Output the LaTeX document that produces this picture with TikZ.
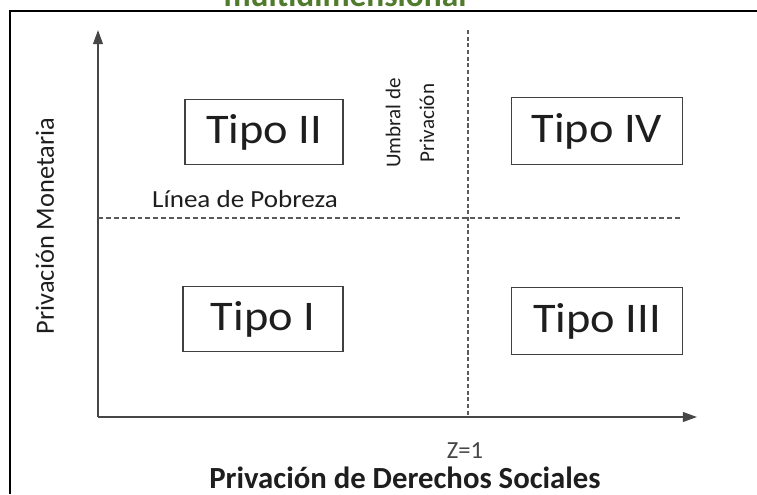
\documentclass[tikz,border=0pt]{standalone}
\usepackage{fontspec}
\setmainfont{Carlito}
\usepackage{graphicx}
\usetikzlibrary{arrows.meta,positioning}
\definecolor{boxgray}{RGB}{64,64,64}
\definecolor{axisgray}{RGB}{70,70,70}
\definecolor{dashgray}{RGB}{90,90,90}
\definecolor{txtgray}{RGB}{30,30,30}
\definecolor{titlegreen}{RGB}{80,122,44}
\newcommand{\hstr}[2][1.1]{\scalebox{#1}[1]{#2}}
\tikzset{
  tipo/.style={draw=boxgray, line width=0.7pt, text=txtgray, inner sep=0pt,
    font=\fontsize{24}{28}\selectfont},
  axis/.style={draw=axisgray, line width=1pt, -{Triangle[length=8pt,width=5.5pt]}},
  umbral/.style={draw=dashgray, line width=0.8pt, dash pattern=on 2.3pt off 1.5pt},
  lbl/.style={inner sep=0pt, text=txtgray}
}
\begin{document}
\begin{tikzpicture}[x=0.02cm, y=-0.02cm]
  \useasboundingbox (0,0) rectangle (757,494);
  % cropped title and frame
  \begin{scope}
    \clip (0,0) rectangle (757,494);
    \node[anchor=base, inner sep=0pt, text=titlegreen,
      font=\fontsize{19}{22}\selectfont\bfseries] (titulo) at (345,6) {multidimensional};
  \end{scope}
  \draw[line width=1.2pt] (10,494) -- (10,11) -- (757,11);
  % axes
  \coordinate (O) at (98,417);
  \coordinate (ytip) at (98,30);
  \coordinate (xtip) at (697,417);
  \draw[axis] (O) -- (ytip);
  \draw[axis] (O) -- (xtip);
  % thresholds
  \coordinate (zTop) at (468,30);
  \coordinate (zBot) at (468,417);
  \coordinate (lpIzq) at (98,218);
  \coordinate (lpDer) at (683,218);
  \draw[umbral] (zTop) -- (zBot);
  \draw[umbral, dash pattern=on 2.8pt off 1.7pt] (lpIzq) -- (lpDer);
  % quadrants
  \node[tipo, minimum width=3.16cm, minimum height=1.3cm] (tII) at (264,132) {\hstr{Tipo II}};
  \node[tipo, minimum width=3.42cm, minimum height=1.34cm] (tIV) at (597,131) {\hstr{Tipo IV}};
  \node[tipo, minimum width=3.2cm, minimum height=1.3cm] (tI) at (263,319) {\hstr{Tipo I}};
  \node[tipo, minimum width=3.42cm, minimum height=1.34cm] (tIII) at (597,321) {\hstr{Tipo III}};
  % labels
  \node[lbl, anchor=base, font=\fontsize{14}{16}\selectfont] (lpLab) at (245,207) {\hstr{Línea de Pobreza}};
  \node[lbl, rotate=90, align=center, font=\fontsize{12}{19.3}\selectfont] (umLab) at (410,123) {Umbral de\\Privación};
  \node[lbl, rotate=90, font=\fontsize{15}{17}\selectfont] (ejeY) at (45,226) {Privación Monetaria};
  \node[lbl, anchor=base, text=axisgray, font=\fontsize{14}{16}\selectfont] (zLab) at (465,458) {Z=1};
  \node[lbl, anchor=base, font=\fontsize{17.5}{20}\selectfont\bfseries] (ejeX) at (405,488) {Privación de Derechos Sociales};
\end{tikzpicture}
\end{document}
